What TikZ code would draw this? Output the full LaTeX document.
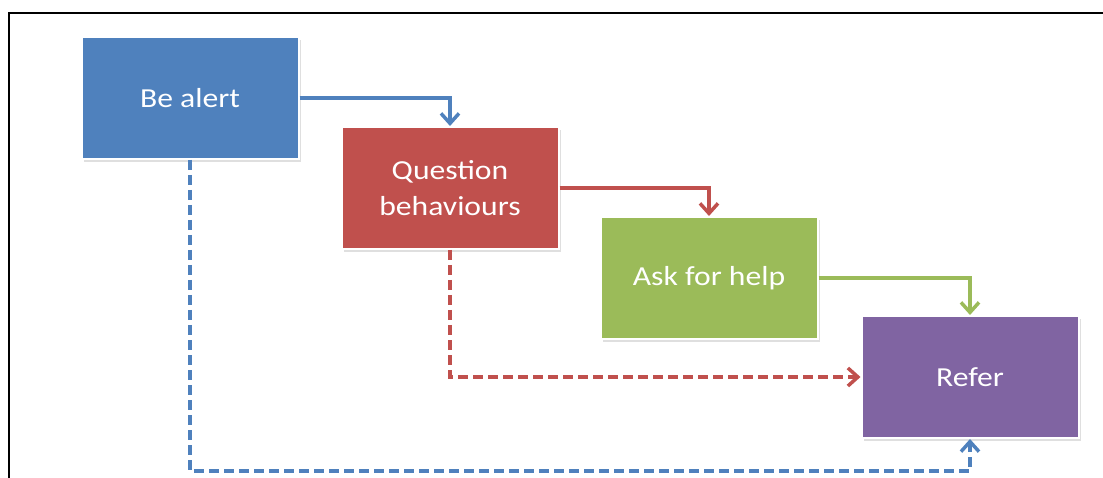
\documentclass[tikz,border=0pt]{standalone}
\usepackage{fontspec}
\setmainfont{Carlito}[FakeStretch=1.15]
\usepackage{xcolor}
\usepackage{tikz}
\usetikzlibrary{arrows.meta,positioning,shadows}
\definecolor{alertblue}{RGB}{79,129,189}
\definecolor{questred}{RGB}{192,80,77}
\definecolor{helpgreen}{RGB}{155,187,89}
\definecolor{referpurple}{RGB}{128,100,162}

\begin{document}
\begin{tikzpicture}[x=1pt,y=-1pt,
    stage/.style={draw=white,line width=2pt,text=white,align=center,
      font=\fontsize{27.5}{36}\selectfont,minimum width=217pt,minimum height=122pt,
      drop shadow={shadow xshift=2pt,shadow yshift=-3pt,opacity=0.25}},
    flow/.style={-{Straight Barb[length=10pt,width=18pt,line width=3.5pt]},line width=3.5pt},
    skip/.style={flow,dash pattern=on 10pt off 5pt}]
   \useasboundingbox (0,0) rectangle (1103,478);
   \draw[line width=2.5pt] (9,478) -- (9,13) -- (1103,13);
   \node[stage,fill=alertblue]   (alert)    at (190,98)  {Be alert};
   \node[stage,fill=questred]    (question) at (450,188) {Question\\behaviours};
   \node[stage,fill=helpgreen]   (help)     at (709,278) {Ask for help};
   \node[stage,fill=referpurple] (refer)    at (970,377) {Refer};
   \draw[flow,alertblue] (alert.east) -| (question.north);
   \draw[flow,questred]  (question.east) -| (help.north);
   \draw[flow,helpgreen] (help.east) -| (refer.north);
   \draw[skip,questred]  (question.south) |- (refer.west);
   \draw[skip,alertblue] (alert.south) -- ++(0,311) -| (refer.south);
  \end{tikzpicture}
\end{document}
